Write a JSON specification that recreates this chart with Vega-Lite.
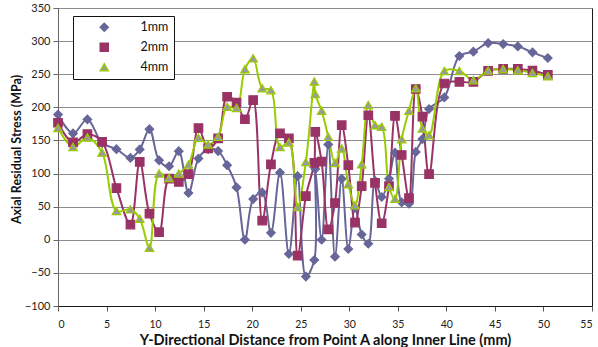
{
  "$schema": "https://vega.github.io/schema/vega-lite/v6.json",
  "autosize": {"type": "none"},
  "padding": {"left": 58, "top": 8, "right": 6, "bottom": 41},
  "width": 534,
  "height": 298,
  "background": "white",
  "config": {
    "font": "Lato",
    "view": {"stroke": "#1a1a1a", "strokeWidth": 1},
    "legend": {
      "orient": "none",
      "legendX": 15,
      "legendY": 8,
      "direction": "vertical",
      "strokeColor": "#111111",
      "fillColor": "white",
      "padding": 5,
      "symbolSize": 64,
      "symbolOffset": 20,
      "symbolStrokeWidth": 1.5,
      "labelOffset": 30,
      "labelFont": "Lato",
      "labelFontSize": 12.5,
      "labelColor": "#111111",
      "rowPadding": 5
    }
  },
  "data": {
    "values": [
      {"x": 0, "y": 189, "s": "1mm"},
      {"x": 1.55, "y": 160.6, "s": "1mm"},
      {"x": 3.03, "y": 181.8, "s": "1mm"},
      {"x": 4.54, "y": 146, "s": "1mm"},
      {"x": 6.02, "y": 136.8, "s": "1mm"},
      {"x": 7.46, "y": 123.6, "s": "1mm"},
      {"x": 8.42, "y": 136.4, "s": "1mm"},
      {"x": 9.42, "y": 167, "s": "1mm"},
      {"x": 10.41, "y": 120, "s": "1mm"},
      {"x": 11.44, "y": 111, "s": "1mm"},
      {"x": 12.44, "y": 133.8, "s": "1mm"},
      {"x": 13.44, "y": 70.6, "s": "1mm"},
      {"x": 14.47, "y": 122.7, "s": "1mm"},
      {"x": 15.46, "y": 137, "s": "1mm"},
      {"x": 16.49, "y": 134, "s": "1mm"},
      {"x": 17.42, "y": 112.6, "s": "1mm"},
      {"x": 18.39, "y": 79, "s": "1mm"},
      {"x": 19.25, "y": 0, "s": "1mm"},
      {"x": 20.1, "y": 61.5, "s": "1mm"},
      {"x": 21.03, "y": 71.5, "s": "1mm"},
      {"x": 21.93, "y": 10.5, "s": "1mm"},
      {"x": 22.86, "y": 101.5, "s": "1mm"},
      {"x": 23.78, "y": -21.5, "s": "1mm"},
      {"x": 24.68, "y": 96, "s": "1mm"},
      {"x": 25.53, "y": -55.6, "s": "1mm"},
      {"x": 26.4, "y": -30.5, "s": "1mm"},
      {"x": 26.5, "y": 107, "s": "1mm"},
      {"x": 27.15, "y": 0, "s": "1mm"},
      {"x": 27.84, "y": 144, "s": "1mm"},
      {"x": 28.53, "y": -25.5, "s": "1mm"},
      {"x": 29.22, "y": 92, "s": "1mm"},
      {"x": 29.9, "y": -13.8, "s": "1mm"},
      {"x": 30.59, "y": 48, "s": "1mm"},
      {"x": 31.28, "y": 8, "s": "1mm"},
      {"x": 31.96, "y": -6, "s": "1mm"},
      {"x": 32.65, "y": 89, "s": "1mm"},
      {"x": 33.34, "y": 64.6, "s": "1mm"},
      {"x": 34.09, "y": 92, "s": "1mm"},
      {"x": 34.71, "y": 131.5, "s": "1mm"},
      {"x": 35.4, "y": 56.5, "s": "1mm"},
      {"x": 36.15, "y": 54.5, "s": "1mm"},
      {"x": 36.85, "y": 132.7, "s": "1mm"},
      {"x": 37.53, "y": 152, "s": "1mm"},
      {"x": 38.22, "y": 197.5, "s": "1mm"},
      {"x": 39.79, "y": 215, "s": "1mm"},
      {"x": 41.34, "y": 277.5, "s": "1mm"},
      {"x": 42.78, "y": 284, "s": "1mm"},
      {"x": 44.3, "y": 297, "s": "1mm"},
      {"x": 45.85, "y": 295.5, "s": "1mm"},
      {"x": 47.36, "y": 292, "s": "1mm"},
      {"x": 48.87, "y": 283, "s": "1mm"},
      {"x": 50.45, "y": 274.5, "s": "1mm"},

      {"x": 0, "y": 176.7, "s": "2mm"},
      {"x": 1.55, "y": 147, "s": "2mm"},
      {"x": 3.03, "y": 159.5, "s": "2mm"},
      {"x": 4.54, "y": 147.9, "s": "2mm"},
      {"x": 6.02, "y": 78, "s": "2mm"},
      {"x": 7.46, "y": 23, "s": "2mm"},
      {"x": 8.42, "y": 117.6, "s": "2mm"},
      {"x": 9.42, "y": 39.4, "s": "2mm"},
      {"x": 10.41, "y": 11.5, "s": "2mm"},
      {"x": 11.44, "y": 92.4, "s": "2mm"},
      {"x": 12.44, "y": 87.3, "s": "2mm"},
      {"x": 13.44, "y": 99, "s": "2mm"},
      {"x": 14.47, "y": 168.6, "s": "2mm"},
      {"x": 15.46, "y": 138, "s": "2mm"},
      {"x": 16.49, "y": 153, "s": "2mm"},
      {"x": 17.42, "y": 216, "s": "2mm"},
      {"x": 18.39, "y": 207, "s": "2mm"},
      {"x": 19.25, "y": 182, "s": "2mm"},
      {"x": 20.1, "y": 211, "s": "2mm"},
      {"x": 21.03, "y": 29, "s": "2mm"},
      {"x": 21.93, "y": 114, "s": "2mm"},
      {"x": 22.86, "y": 160.6, "s": "2mm"},
      {"x": 23.78, "y": 153, "s": "2mm"},
      {"x": 24.68, "y": -24, "s": "2mm"},
      {"x": 25.53, "y": 66, "s": "2mm"},
      {"x": 26.4, "y": 116, "s": "2mm"},
      {"x": 26.5, "y": 163, "s": "2mm"},
      {"x": 27.15, "y": 118, "s": "2mm"},
      {"x": 27.84, "y": 15.6, "s": "2mm"},
      {"x": 28.53, "y": 55.5, "s": "2mm"},
      {"x": 29.22, "y": 173, "s": "2mm"},
      {"x": 29.9, "y": 112.6, "s": "2mm"},
      {"x": 30.59, "y": 26, "s": "2mm"},
      {"x": 31.28, "y": 81, "s": "2mm"},
      {"x": 31.96, "y": 188, "s": "2mm"},
      {"x": 32.65, "y": 86, "s": "2mm"},
      {"x": 33.34, "y": 25, "s": "2mm"},
      {"x": 34.09, "y": 81, "s": "2mm"},
      {"x": 34.71, "y": 187, "s": "2mm"},
      {"x": 35.4, "y": 128, "s": "2mm"},
      {"x": 36.15, "y": 63, "s": "2mm"},
      {"x": 36.85, "y": 227.7, "s": "2mm"},
      {"x": 37.53, "y": 186, "s": "2mm"},
      {"x": 38.22, "y": 99, "s": "2mm"},
      {"x": 39.79, "y": 236, "s": "2mm"},
      {"x": 41.34, "y": 238.5, "s": "2mm"},
      {"x": 42.78, "y": 238.5, "s": "2mm"},
      {"x": 44.3, "y": 255, "s": "2mm"},
      {"x": 45.85, "y": 258, "s": "2mm"},
      {"x": 47.36, "y": 258, "s": "2mm"},
      {"x": 48.87, "y": 255.5, "s": "2mm"},
      {"x": 50.45, "y": 249, "s": "2mm"},

      {"x": 0, "y": 169, "s": "4mm"},
      {"x": 1.55, "y": 140.3, "s": "4mm"},
      {"x": 3.03, "y": 154.5, "s": "4mm"},
      {"x": 4.54, "y": 131.8, "s": "4mm"},
      {"x": 6.02, "y": 43.4, "s": "4mm"},
      {"x": 7.46, "y": 46, "s": "4mm"},
      {"x": 8.42, "y": 31.8, "s": "4mm"},
      {"x": 9.42, "y": -12, "s": "4mm"},
      {"x": 10.41, "y": 100, "s": "4mm"},
      {"x": 11.44, "y": 93.4, "s": "4mm"},
      {"x": 12.44, "y": 100, "s": "4mm"},
      {"x": 13.44, "y": 113.6, "s": "4mm"},
      {"x": 14.47, "y": 154, "s": "4mm"},
      {"x": 15.46, "y": 144, "s": "4mm"},
      {"x": 16.49, "y": 155.5, "s": "4mm"},
      {"x": 17.42, "y": 201, "s": "4mm"},
      {"x": 18.39, "y": 199, "s": "4mm"},
      {"x": 19.25, "y": 257.6, "s": "4mm"},
      {"x": 20.1, "y": 274, "s": "4mm"},
      {"x": 21.03, "y": 229, "s": "4mm"},
      {"x": 21.93, "y": 226, "s": "4mm"},
      {"x": 22.86, "y": 140, "s": "4mm"},
      {"x": 23.78, "y": 147, "s": "4mm"},
      {"x": 24.68, "y": 49.4, "s": "4mm"},
      {"x": 25.53, "y": 117.6, "s": "4mm"},
      {"x": 26.4, "y": 239, "s": "4mm"},
      {"x": 26.5, "y": 220, "s": "4mm"},
      {"x": 27.15, "y": 195, "s": "4mm"},
      {"x": 27.84, "y": 155.5, "s": "4mm"},
      {"x": 28.53, "y": 116, "s": "4mm"},
      {"x": 29.22, "y": 138, "s": "4mm"},
      {"x": 29.9, "y": 83.8, "s": "4mm"},
      {"x": 30.59, "y": 52, "s": "4mm"},
      {"x": 31.28, "y": 114, "s": "4mm"},
      {"x": 31.96, "y": 203.5, "s": "4mm"},
      {"x": 32.65, "y": 173, "s": "4mm"},
      {"x": 33.34, "y": 170.6, "s": "4mm"},
      {"x": 34.09, "y": 79.7, "s": "4mm"},
      {"x": 34.71, "y": 62, "s": "4mm"},
      {"x": 35.4, "y": 152, "s": "4mm"},
      {"x": 36.15, "y": 195, "s": "4mm"},
      {"x": 36.85, "y": 228.8, "s": "4mm"},
      {"x": 37.53, "y": 168, "s": "4mm"},
      {"x": 38.22, "y": 158, "s": "4mm"},
      {"x": 39.79, "y": 255, "s": "4mm"},
      {"x": 41.34, "y": 255, "s": "4mm"},
      {"x": 42.78, "y": 241, "s": "4mm"},
      {"x": 44.3, "y": 255.5, "s": "4mm"},
      {"x": 45.85, "y": 258, "s": "4mm"},
      {"x": 47.36, "y": 256, "s": "4mm"},
      {"x": 48.87, "y": 252, "s": "4mm"},
      {"x": 50.45, "y": 247, "s": "4mm"}
    ]
  },
  "encoding": {
    "x": {
      "field": "x",
      "type": "quantitative",
      "scale": {"domain": [0, 55], "nice": false, "zero": false},
      "axis": {
        "title": "Y-Directional Distance from Point A along Inner Line (mm)",
        "values": [0, 5, 10, 15, 20, 25, 30, 35, 40, 45, 50, 55],
        "grid": false,
        "domainColor": "#1a1a1a",
        "tickColor": "#555555",
        "tickSize": 5,
        "labelPadding": 8,
        "labelFontSize": 10.5,
        "labelColor": "#222222",
        "titleFont": "Lato",
        "titleFontSize": 14.5,
        "titleFontWeight": "bold",
        "titleColor": "#111111",
        "titleBaseline": "alphabetic",
        "titleY": 38
      }
    },
    "y": {
      "field": "y",
      "type": "quantitative",
      "scale": {"domain": [-100, 350], "nice": false, "zero": false},
      "axis": {
        "title": "Axial Residual Stress (MPa)",
        "values": [-100, -50, 0, 50, 100, 150, 200, 250, 300, 350],
        "grid": true,
        "gridColor": "#8c8c8c",
        "gridWidth": 1,
        "domainColor": "#666666",
        "tickColor": "#666666",
        "tickSize": 5,
        "labelPadding": 3,
        "labelFontSize": 11,
        "labelColor": "#222222",
        "titleFont": "Lato",
        "titleFontSize": 12.5,
        "titleFontWeight": "bold",
        "titleColor": "#111111",
        "titleX": -42,
        "titleY": 141,
        "titleAngle": -90,
        "titleBaseline": "middle"
      }
    },
    "stroke": {
      "field": "s",
      "type": "nominal",
      "scale": {"domain": ["1mm", "2mm", "4mm"], "range": ["#666699", "#993366", "#99cc00"]},
      "legend": {"title": null}
    }
  },
  "layer": [
    {
      "mark": {"type": "line", "interpolate": "catmull-rom", "strokeWidth": 2},
      "encoding": {"detail": {"field": "s"}}
    },
    {
      "mark": {"type": "point", "filled": true, "opacity": 1, "strokeWidth": 1.2},
      "encoding": {
        "shape": {
          "field": "s",
          "type": "nominal",
          "scale": {"domain": ["1mm", "2mm", "4mm"], "range": ["diamond", "square", "triangle-up"]},
          "legend": null
        },
        "fill": {
          "field": "s",
          "type": "nominal",
          "scale": {"domain": ["1mm", "2mm", "4mm"], "range": ["#666699", "#993366", "#9a9a9a"]},
          "legend": {"title": null}
        },
        "size": {"value": 72}
      }
    }
  ]
}
